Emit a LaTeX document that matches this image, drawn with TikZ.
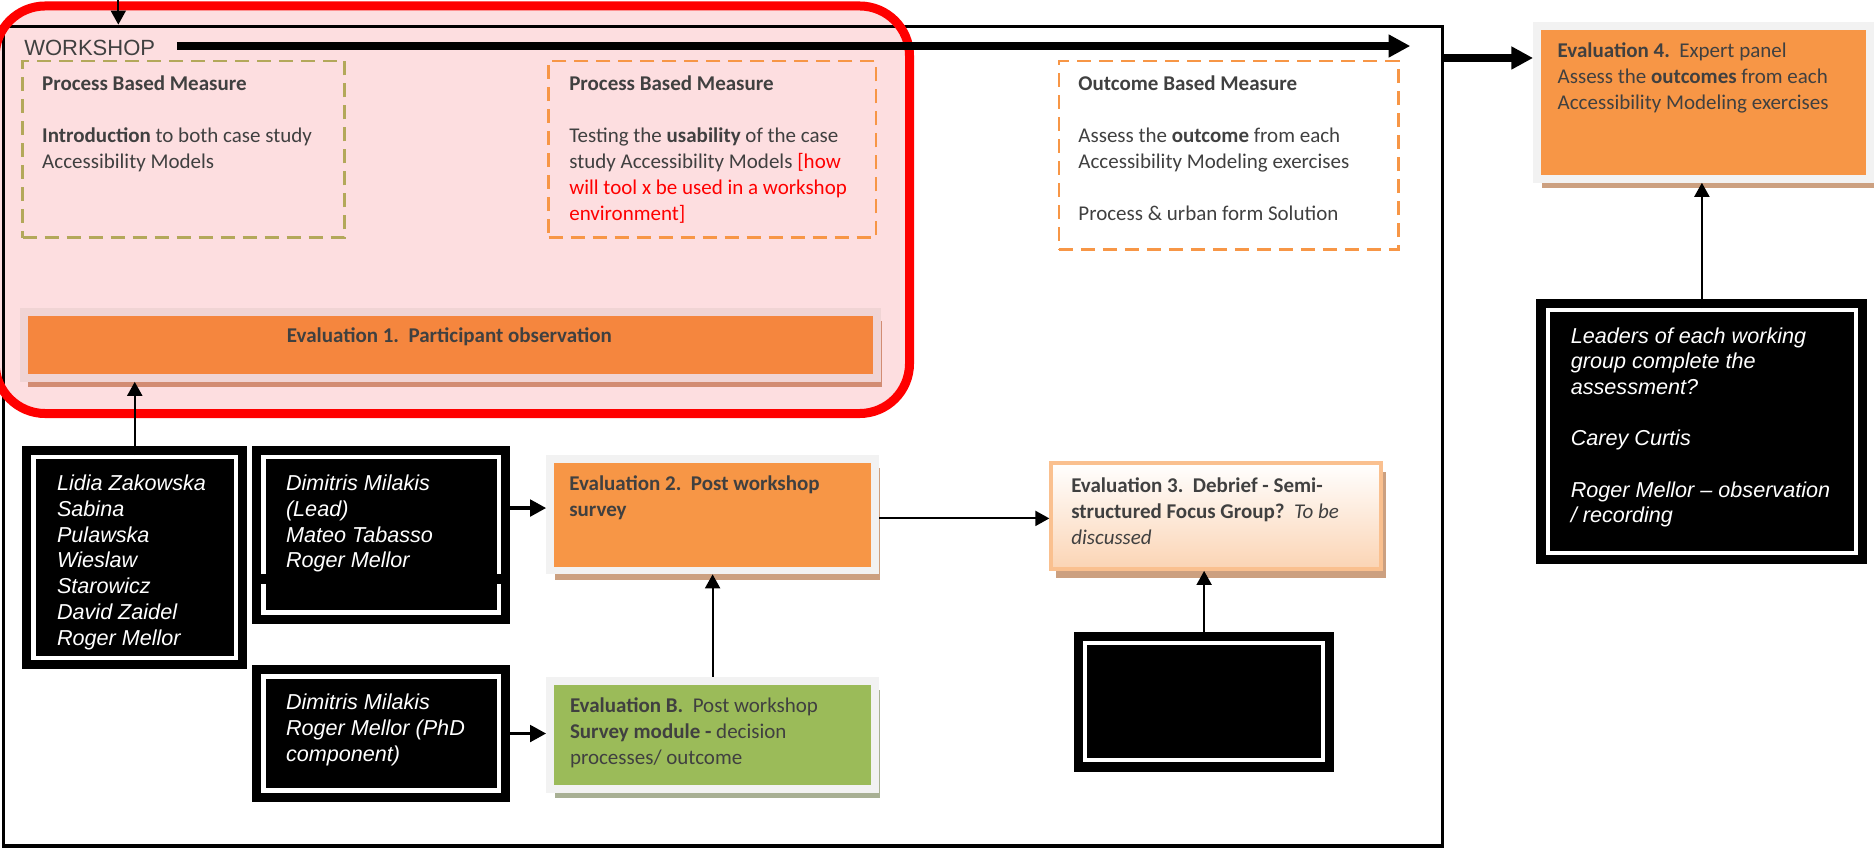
\documentclass[tikz,border=0pt]{standalone}
\usepackage{fontspec}
\setmainfont{Carlito}
\newfontfamily\arial{Liberation Sans}
\usepackage{xcolor}
\usepackage{tikz}
\usetikzlibrary{fit,shadows,arrows.meta}

\definecolor{pinkbg}{RGB}{253,222,224}
\definecolor{redline}{RGB}{255,0,0}
\definecolor{framegray}{RGB}{242,242,242}
\definecolor{framepink}{RGB}{240,212,212}
\definecolor{orangeA}{RGB}{245,134,62}
\definecolor{orangeB}{RGB}{247,150,70}
\definecolor{greenB}{RGB}{155,187,89}
\definecolor{peach}{RGB}{251,212,180}
\definecolor{peachline}{RGB}{250,192,143}
\definecolor{shadowbrown}{RGB}{204,160,128}
\definecolor{shadowred}{RGB}{210,140,115}
\definecolor{shadowgreen}{RGB}{168,176,148}
\definecolor{dashkhaki}{RGB}{179,168,90}
\definecolor{textgray}{RGB}{64,64,64}

\tikzset{
	evalbox/.style={draw=framegray, line width=3.9pt, fill=#1, inner sep=0pt},
	boxshadow/.style={drop shadow={shadow xshift=2.4pt, shadow yshift=-4.6pt, fill=#1, opacity=1}},
	blackbox/.style={draw=white, line width=2.1pt, fill=black, inner sep=0pt, preaction={draw=black, line width=11.4pt}},
	dashbox/.style={draw=#1, dash pattern=on 7pt off 4pt, line width=1.4pt, inner sep=0pt},
	txt/.style={anchor=north west, align=left, inner sep=0pt, text=textgray, font=\fontsize{10.5}{13}\selectfont},
	wtxt/.style={anchor=north west, align=left, inner sep=0pt, text=white, font=\arial\itshape\fontsize{10.8}{12.85}\selectfont},
	arr/.style={-{Triangle[length=7pt,width=7.5pt]}, line width=1pt},
	medarr/.style={-{Triangle[length=8pt,width=8.3pt]}, line width=1.6pt},
	bigarr/.style={-{Triangle[length=10.8pt,width=10.8pt]}, line width=3.6pt}
}

\begin{document}
\begin{tikzpicture}[x=0.5976pt, y=-0.5976pt]
\useasboundingbox (0,0) rectangle (1568,711);
\fill[pinkbg, rounded corners=25pt] (-4,5) rectangle (761,346);
\node[draw, line width=1.7pt, inner sep=0pt, fit={(3,22) (1207,708)}] (frame) {};
\draw[redline, line width=4.5pt, rounded corners=25pt] (-4,5) rectangle (761,346);

\node[anchor=west, inner sep=0pt, text=textgray, font=\arial\fontsize{11}{13}\selectfont] (ws) at (20,40) {WORKSHOP};

\node[dashbox=dashkhaki, fit={(19,51) (288,199)}] (pbm1) {};
\node[dashbox=orangeB, fit={(459,51) (733,199)}] (pbm2) {};
\node[dashbox=orangeB, fit={(886,51) (1170,209)}] (obm) {};
\node[txt] (pbm1txt) at (35,63.1) {\textbf{Process Based Measure}\\[13pt]\textbf{Introduction} to both case study\\Accessibility Models};
\node[txt] (pbm2txt) at (476,63.1) {\textbf{Process Based Measure}\\[13pt]Testing the \textbf{usability} of the case\\study Accessibility Models \textcolor{red}{[how}\\\textcolor{red}{will tool x be used in a workshop}\\\textcolor{red}{environment]}};
\node[txt] (obmtxt) at (902,63.1) {\textbf{Outcome Based Measure}\\[13pt]Assess the \textbf{outcome} from each\\Accessibility Modeling exercises\\[13pt]Process \& urban form Solution};

\node[evalbox=orangeA, draw=framepink, boxshadow=shadowred, fit={(19.75,261.25) (733.75,316.25)}] (ev1) {};
\node[anchor=base, inner sep=0pt, text=textgray, font=\bfseries\fontsize{10.5}{13}\selectfont] (ev1txt) at (376,286.7) {Evaluation 1.\ \ Participant observation};
\node[evalbox=orangeB, boxshadow=shadowbrown, fit={(460.2,384.2) (732.3,477.3)}] (ev2) {};
\node[txt] (ev2txt) at (476,397.4) {\textbf{Evaluation 2.\ \ Post workshop}\\\textbf{survey}};
\node[evalbox=greenB, boxshadow=shadowgreen, fit={(460.2,569.7) (732.3,660.3)}] (evB) {};
\node[txt] (evBtxt) at (476.6,583.4) {\textbf{Evaluation B.}\ \ Post workshop\\\textbf{Survey module -} decision\\processes/ outcome};
\node[draw=peachline, line width=1.8pt, top color=white, bottom color=peach, inner sep=0pt, boxshadow=shadowbrown, fit={(879.5,387.3) (1155.5,476.2)}] (ev3) {};
\node[txt] (ev3txt) at (896,399.4) {\textbf{Evaluation 3.\ \ Debrief - Semi-}\\\textbf{structured Focus Group?}\ \ \textit{To be}\\\textit{discussed}};
\node[evalbox=orangeB, boxshadow=shadowbrown, fit={(1286,22) (1564.7,149.7)}] (ev4) {};
\node[txt] (ev4txt) at (1303,35.2) {\textbf{Evaluation 4.}\ \ Expert panel\\Assess the \textbf{outcomes} from each\\Accessibility Modeling exercises};

\node[blackbox, fit={(28,382.5) (197.5,550.5)}] (boxA) {};
\node[blackbox, fit={(220.5,382.5) (417.5,512.5)}] (boxB) {};
\fill (218,480) rectangle (223,489);
\fill (415.5,480) rectangle (420,489);
\node[blackbox, fit={(220.5,566) (417.5,661.5)}] (boxC) {};
\node[blackbox, fit={(908,538) (1107,636)}] (boxD) {};
\node[blackbox, fit={(1295,259.5) (1553,462.5)}] (boxE) {};
\node[wtxt] (boxAtxt) at (47.4,397.3) {Lidia Zakowska\\Sabina\\Pulawska\\Wieslaw\\Starowicz\\David Zaidel\\Roger Mellor};
\node[wtxt] (boxBtxt) at (239,397.3) {Dimitris Milakis\\(Lead)\\Mateo Tabasso\\Roger Mellor};
\node[wtxt] (boxCtxt) at (239,580.3) {Dimitris Milakis\\Roger Mellor (PhD\\component)};
\node[wtxt] (boxEtxt) at (1314,273.6) {Leaders of each working\\group complete the\\assessment?\\[12.85pt]Carey Curtis\\[12.85pt]Roger Mellor – observation\\/ recording};

\coordinate (topin) at (99,0);
\draw[arr] (topin) -- (topin |- frame.north);
\coordinate (wsa) at (148,38.5);
\coordinate (wsb) at (1180,38.5);
\draw[bigarr] (wsa) -- (wsb);
\draw[bigarr] ([yshift=-16.7pt]frame.north east) -- ([yshift=-16.7pt]frame.north east -| ev4.west);
\draw[arr] (boxA.north) -- (boxA.north |- ev1.south);
\draw[medarr] ([yshift=13.4pt]boxB.east) -- ([yshift=13.4pt]boxB.east -| ev2.west);
\draw[medarr] (boxC.east) -- (boxC.east -| evB.west);
\draw[arr] (evB.north) -- (evB.north |- ev2.south);
\draw[arr] ([yshift=-1.8pt]ev2.east) -- ([yshift=-1.8pt]ev2.east -| ev3.west);
\draw[arr] (boxD.north) -- (boxD.north |- ev3.south);
\draw[arr] (boxE.north) -- (boxE.north |- ev4.south);
\end{tikzpicture}
\end{document}
